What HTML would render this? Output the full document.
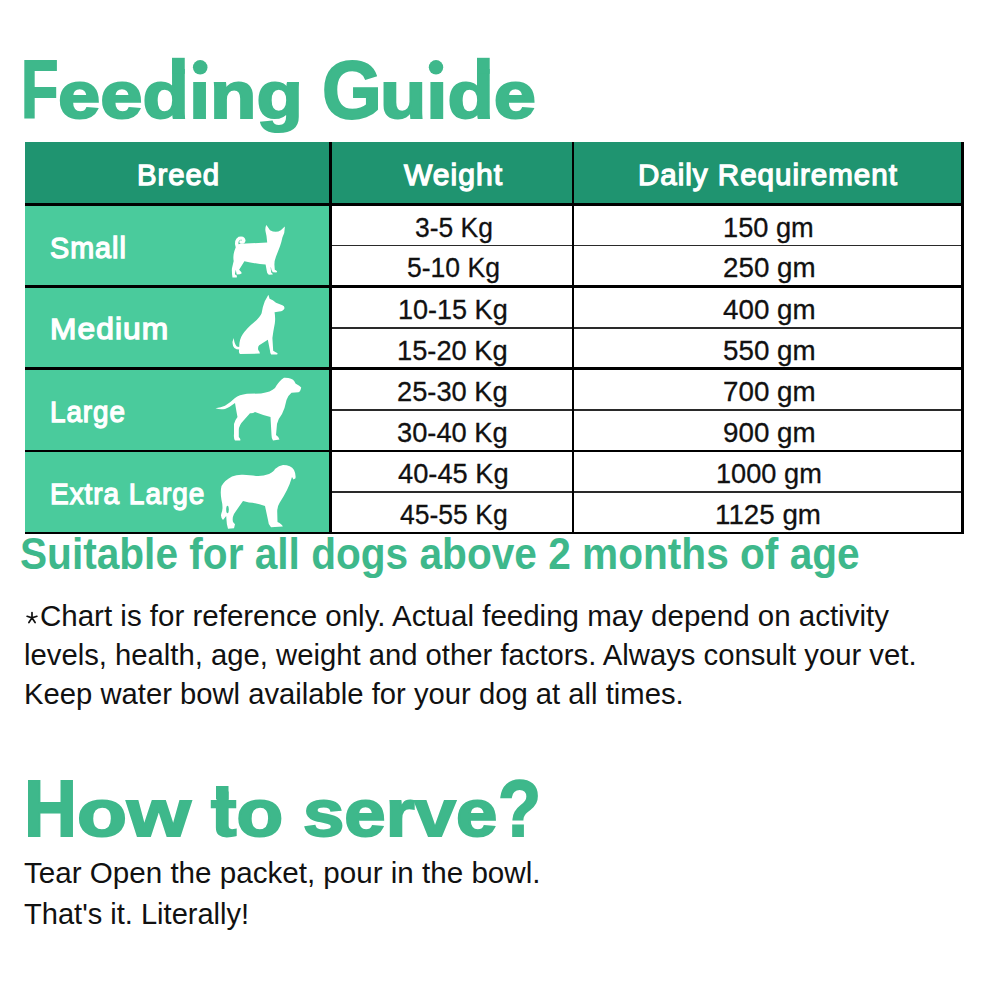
<!DOCTYPE html>
<html><head><meta charset="utf-8"><title>Feeding Guide</title>
<style>
html,body{margin:0;padding:0;background:#fff;}
body{width:1000px;height:1000px;position:relative;overflow:hidden;font-family:"Liberation Sans",sans-serif;}
.t{position:absolute;white-space:nowrap;line-height:1;transform-origin:0 0;}
.r{position:absolute;}
.dog{position:absolute;overflow:visible;}
</style></head><body>
<div class="r" style="left:25.2px;top:141.6px;width:938.40px;height:61.90px;background:#1f9470"></div>
<div class="r" style="left:25.2px;top:203.5px;width:305.50px;height:330.70px;background:#4acb9c"></div>
<div class="r" style="left:25.2px;top:202.9px;width:938.40px;height:2.80px;background:#000"></div>
<div class="r" style="left:25.2px;top:285.20000000000005px;width:938.40px;height:2.80px;background:#000"></div>
<div class="r" style="left:25.2px;top:367.40000000000003px;width:938.40px;height:2.80px;background:#000"></div>
<div class="r" style="left:25.2px;top:449.6px;width:938.40px;height:2.80px;background:#000"></div>
<div class="r" style="left:25.2px;top:531.5px;width:938.40px;height:2.80px;background:#000"></div>
<div class="r" style="left:330.7px;top:244.7px;width:632.90px;height:1.60px;background:#2a2a2a"></div>
<div class="r" style="left:330.7px;top:327.2px;width:632.90px;height:1.60px;background:#2a2a2a"></div>
<div class="r" style="left:330.7px;top:409.4px;width:632.90px;height:1.60px;background:#2a2a2a"></div>
<div class="r" style="left:330.7px;top:491.0px;width:632.90px;height:1.60px;background:#2a2a2a"></div>
<div class="r" style="left:329.4px;top:141.6px;width:2.60px;height:392.60px;background:#000"></div>
<div class="r" style="left:571.9000000000001px;top:141.6px;width:2.60px;height:392.60px;background:#000"></div>
<div class="r" style="left:961.0px;top:141.6px;width:2.60px;height:392.60px;background:#000"></div>
<div class="t" style="left:20.79px;top:49.51px;font-size:81px;transform:scaleX(0.7550);color:#3eb88b;font-weight:700;-webkit-text-stroke:2px #3eb88b">F</div>
<div class="t" style="left:57.51px;top:61.51px;font-size:66px;transform:scaleX(1.1515);color:#3eb88b;font-weight:700;-webkit-text-stroke:2px #3eb88b">eedıng</div>
<div class="t" style="left:322.08px;top:49.51px;font-size:81px;transform:scaleX(0.9494);color:#3eb88b;font-weight:700;-webkit-text-stroke:2px #3eb88b">G</div>
<div class="t" style="left:379.79px;top:61.51px;font-size:66px;transform:scaleX(1.1494);color:#3eb88b;font-weight:700;-webkit-text-stroke:2px #3eb88b">uıde</div>
<div class="t" style="left:19.94px;top:532.00px;font-size:44px;transform:scaleX(0.9232);color:#3eb88b;font-weight:700">Suitable for all dogs above 2 months of age</div>
<div class="t" style="left:40.21px;top:601.72px;font-size:29px;transform:scaleX(1.0173);color:#111111;font-weight:400">Chart is for reference only. Actual feeding may depend on activity</div>
<div class="t" style="left:23.59px;top:640.61px;font-size:29px;transform:scaleX(1.0085);color:#111111;font-weight:400">levels, health, age, weight and other factors. Always consult your vet.</div>
<div class="t" style="left:23.74px;top:679.82px;font-size:29px;transform:scaleX(1.0080);color:#111111;font-weight:400">Keep water bowl available for your dog at all times.</div>
<div class="t" style="left:24.37px;top:768.51px;font-size:80px;transform:scaleX(0.9171);color:#3eb88b;font-weight:700;-webkit-text-stroke:2px #3eb88b">H</div>
<div class="t" style="left:76.65px;top:779.51px;font-size:66px;transform:scaleX(1.2413);color:#3eb88b;font-weight:700;-webkit-text-stroke:2px #3eb88b">ow</div>
<div class="t" style="left:210.79px;top:779.51px;font-size:66px;transform:scaleX(1.1585);color:#3eb88b;font-weight:700;-webkit-text-stroke:2px #3eb88b">to</div>
<div class="t" style="left:302.58px;top:779.51px;font-size:66px;transform:scaleX(1.1263);color:#3eb88b;font-weight:700;-webkit-text-stroke:2px #3eb88b">serve</div>
<div class="t" style="left:498.38px;top:768.51px;font-size:80px;transform:scaleX(0.8805);color:#3eb88b;font-weight:700;-webkit-text-stroke:2px #3eb88b">?</div>
<div class="t" style="left:23.58px;top:859.32px;font-size:29px;transform:scaleX(1.0203);color:#111111;font-weight:400">Tear Open the packet, pour in the bowl.</div>
<div class="t" style="left:23.60px;top:899.90px;font-size:29px;transform:scaleX(1.0018);color:#111111;font-weight:400">That's it. Literally!</div>
<div class="t" style="left:137.04px;top:159.50px;font-size:30px;transform:scaleX(0.9778);color:#ffffff;font-weight:400;-webkit-text-stroke:1.3px #ffffff;letter-spacing:1.0px">Breed</div>
<div class="t" style="left:403.93px;top:159.50px;font-size:30px;transform:scaleX(1.0034);color:#ffffff;font-weight:400;-webkit-text-stroke:1.3px #ffffff;letter-spacing:1.0px">Weight</div>
<div class="t" style="left:638.24px;top:159.50px;font-size:30px;transform:scaleX(0.9853);color:#ffffff;font-weight:400;-webkit-text-stroke:1.3px #ffffff;letter-spacing:1.0px">Daily Requirement</div>
<div class="t" style="left:50.01px;top:233.51px;font-size:29px;transform:scaleX(0.9902);color:#ffffff;font-weight:400;-webkit-text-stroke:1.3px #ffffff;letter-spacing:1.0px">Small</div>
<div class="t" style="left:50.29px;top:315.20px;font-size:29px;transform:scaleX(1.0925);color:#ffffff;font-weight:400;-webkit-text-stroke:1.3px #ffffff;letter-spacing:1.0px">Medium</div>
<div class="t" style="left:50.02px;top:397.51px;font-size:29px;transform:scaleX(0.9583);color:#ffffff;font-weight:400;-webkit-text-stroke:1.3px #ffffff;letter-spacing:1.0px">Large</div>
<div class="t" style="left:50.49px;top:479.70px;font-size:29px;transform:scaleX(0.9649);color:#ffffff;font-weight:400;-webkit-text-stroke:1.3px #ffffff;letter-spacing:1.0px">Extra Large</div>
<div class="t" style="left:414.66px;top:212.50px;font-size:28.5px;transform:scaleX(0.9278);color:#111111;font-weight:400;-webkit-text-stroke:0.3px #111111">3-5 Kg</div>
<div class="t" style="left:722.90px;top:212.50px;font-size:28.5px;transform:scaleX(0.9549);color:#111111;font-weight:400;-webkit-text-stroke:0.3px #111111">150 gm</div>
<div class="t" style="left:406.90px;top:253.00px;font-size:28.5px;transform:scaleX(0.9315);color:#111111;font-weight:400;-webkit-text-stroke:0.3px #111111">5-10 Kg</div>
<div class="t" style="left:722.60px;top:253.00px;font-size:28.5px;transform:scaleX(0.9740);color:#111111;font-weight:400;-webkit-text-stroke:0.3px #111111">250 gm</div>
<div class="t" style="left:398.10px;top:294.81px;font-size:28.5px;transform:scaleX(0.9481);color:#111111;font-weight:400;-webkit-text-stroke:0.3px #111111">10-15 Kg</div>
<div class="t" style="left:723.10px;top:294.81px;font-size:28.5px;transform:scaleX(0.9740);color:#111111;font-weight:400;-webkit-text-stroke:0.3px #111111">400 gm</div>
<div class="t" style="left:396.50px;top:335.81px;font-size:28.5px;transform:scaleX(0.9570);color:#111111;font-weight:400;-webkit-text-stroke:0.3px #111111">15-20 Kg</div>
<div class="t" style="left:722.60px;top:335.81px;font-size:28.5px;transform:scaleX(0.9740);color:#111111;font-weight:400;-webkit-text-stroke:0.3px #111111">550 gm</div>
<div class="t" style="left:397.00px;top:377.20px;font-size:28.5px;transform:scaleX(0.9570);color:#111111;font-weight:400;-webkit-text-stroke:0.3px #111111">25-30 Kg</div>
<div class="t" style="left:722.60px;top:377.20px;font-size:28.5px;transform:scaleX(0.9740);color:#111111;font-weight:400;-webkit-text-stroke:0.3px #111111">700 gm</div>
<div class="t" style="left:397.00px;top:418.00px;font-size:28.5px;transform:scaleX(0.9570);color:#111111;font-weight:400;-webkit-text-stroke:0.3px #111111">30-40 Kg</div>
<div class="t" style="left:722.60px;top:418.00px;font-size:28.5px;transform:scaleX(0.9740);color:#111111;font-weight:400;-webkit-text-stroke:0.3px #111111">900 gm</div>
<div class="t" style="left:398.00px;top:459.31px;font-size:28.5px;transform:scaleX(0.9570);color:#111111;font-weight:400;-webkit-text-stroke:0.3px #111111">40-45 Kg</div>
<div class="t" style="left:715.51px;top:459.31px;font-size:28.5px;transform:scaleX(0.9540);color:#111111;font-weight:400;-webkit-text-stroke:0.3px #111111">1000 gm</div>
<div class="t" style="left:400.06px;top:499.50px;font-size:28.5px;transform:scaleX(0.9307);color:#111111;font-weight:400;-webkit-text-stroke:0.3px #111111">45-55 Kg</div>
<div class="t" style="left:715.10px;top:499.50px;font-size:28.5px;transform:scaleX(0.9740);color:#111111;font-weight:400;-webkit-text-stroke:0.3px #111111">1125 gm</div>
<svg style="position:absolute;left:0;top:0;width:1000px;height:1000px;overflow:visible" class="dog"><path d="M32 612.6 L32 617.8 M27.1 616.3 L32 617.8 L36.9 616.3 M28.9 622.5 L32 617.8 L35.1 622.5" stroke="#111" stroke-width="1.7" stroke-linecap="round" fill="none"/></svg>
<svg style="position:absolute;left:0;top:0;width:1000px;height:200px;overflow:visible" class="dog"><g fill="#3eb88b"><circle cx="200.2" cy="67.3" r="7.3"/><circle cx="436" cy="67.3" r="7.2"/><rect x="172" y="57.8" width="12.75" height="16"/><rect x="477.0" y="57.8" width="12.7" height="16"/></g></svg>
<svg style="position:absolute;left:0;top:0;width:1000px;height:1000px;overflow:visible" class="dog"><rect x="216" y="786" width="12.5" height="13.5" fill="#3eb88b"/></svg>
<svg class="dog" style="left:220px;top:215px;width:80px;height:70px" viewBox="0 0 1000 875"><path fill="#fff" d="M580 125 L625 190 Q700 230 760 190 L810 145 Q812 230 780 280 Q770 330 750 390 L700 520 Q680 570 680 620 L685 685 Q705 695 715 705 L705 720 L660 716 Q640 700 638 660 L632 650 L640 720 Q660 735 660 745 L610 748 Q585 735 585 700 L570 620 Q450 610 305 577 L239 683 L265 714 L272 729 L250 740 L209 744 L197 683 L186 740 L212 759 L209 781 L156 781 Q146 720 149 669 L171 575 Q160 520 180 450 Q195 400 215 370 L260 360 L590 345 Q585 260 570 210 Q560 160 580 125 Z"/><path fill="none" stroke="#fff" stroke-width="42" stroke-linecap="round" d="M215 390 Q195 320 240 292 Q290 278 298 318 Q295 342 262 338"/></svg>
<svg class="dog" style="left:220px;top:290px;width:80px;height:70px" viewBox="0 0 1000 875"><path fill="#fff" d="M605 60 L620 110 Q660 120 700 160 L780 192 Q810 205 805 230 Q795 260 740 270 L682 278 Q695 350 685 420 Q665 520 655 600 L665 760 Q700 780 720 790 L715 805 L640 805 Q625 790 625 760 L598 622 L490 690 Q470 710 478 750 Q500 775 498 795 L250 800 Q230 785 240 745 Q205 745 180 725 Q150 690 158 640 L172 600 Q180 680 210 705 L240 712 Q240 620 280 560 Q330 480 430 400 Q500 340 520 290 Q535 200 560 140 Z"/></svg>
<svg class="dog" style="left:205px;top:370px;width:100px;height:80px" viewBox="0 0 1000 800"><path fill="#fff" d="M790 78 Q870 75 895 115 L905 135 Q950 160 962 175 Q955 215 935 222 L865 228 Q835 250 815 300 Q800 380 770 440 Q730 490 720 540 L710 650 Q740 670 745 695 L680 705 Q665 690 665 650 L655 470 Q560 445 500 420 Q480 435 450 432 L390 500 Q340 550 338 600 L338 670 Q360 690 352 705 L300 705 Q285 680 290 640 L290 540 Q300 500 325 470 Q315 420 300 330 Q250 370 200 390 Q150 400 105 383 Q160 375 200 358 Q260 320 300 280 Q340 248 420 238 L560 235 Q660 220 700 180 Q740 110 790 78 Z"/></svg>
<svg class="dog" style="left:205px;top:452px;width:100px;height:80px" viewBox="0 0 1000 800"><path fill="#fff" d="M780 130 Q860 130 890 180 Q910 220 905 262 L885 275 L870 250 Q850 320 820 380 Q790 440 745 510 Q725 540 722 590 L725 700 Q770 720 778 745 L660 752 Q630 720 630 680 L600 540 Q520 510 440 505 Q410 495 380 490 Q330 560 290 620 Q270 660 280 700 L300 722 L290 762 L230 768 Q215 720 215 680 L212 640 L180 680 Q150 650 165 610 Q185 560 165 480 Q150 400 165 340 Q200 280 270 245 Q320 225 380 228 L480 235 Q560 250 640 220 Q690 195 700 170 Q740 135 780 130 Z"/><ellipse cx="225" cy="575" rx="13" ry="38" fill="#4acb9c"/></svg>
</body></html>
